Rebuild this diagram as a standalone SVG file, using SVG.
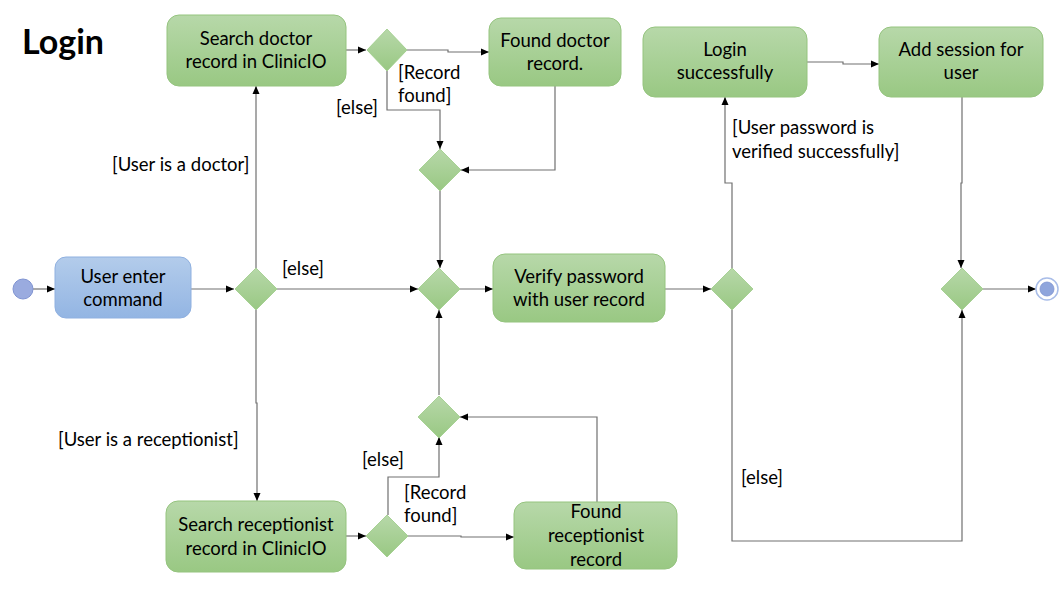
<svg xmlns="http://www.w3.org/2000/svg" width="1060" height="596" viewBox="0 0 1060 596">
<style>
.t{font-family:Lato,"Liberation Sans",sans-serif;font-size:18.5px;fill:#000}
.c{text-anchor:middle}
.box{fill:url(#g);stroke:#95c47f;stroke-width:1}
.dia{fill:url(#g);stroke:#9ccb86;stroke-width:0.8}
.ln{fill:none;stroke:#707070;stroke-width:1.2}
</style>
<defs>
<linearGradient id="g" x1="0" y1="0" x2="0" y2="1"><stop offset="0" stop-color="#b7d8a9"/><stop offset="1" stop-color="#99c883"/></linearGradient>
<linearGradient id="b" x1="0" y1="0" x2="0" y2="1"><stop offset="0" stop-color="#b3cceb"/><stop offset="1" stop-color="#93b5e3"/></linearGradient>
<marker id="a" markerUnits="userSpaceOnUse" markerWidth="9" markerHeight="8" refX="8" refY="4" orient="auto"><path d="M0,0.5 L8,4 L0,7.5 z" fill="#000"/></marker>
</defs>
<rect width="1060" height="596" fill="#fff"/>
<text x="22" y="54" style="font-family:Lato,'Liberation Sans',sans-serif;font-size:34px;font-weight:bold">Login</text>

<g id="connectors">
<path class="ln" d="M33,289 H55" marker-end="url(#a)"/>
<path class="ln" d="M191,289 H234" marker-end="url(#a)"/>
<path class="ln" d="M256,268 V86" marker-end="url(#a)"/>
<path class="ln" d="M277,289 H418" marker-end="url(#a)"/>
<path class="ln" d="M256,310 V403 H257 V501" marker-end="url(#a)"/>
<path class="ln" d="M346,50 H366" marker-end="url(#a)"/>
<path class="ln" d="M407,50 H448 V52 H489" marker-end="url(#a)"/>
<path class="ln" d="M387,71 V110 H440 V149" marker-end="url(#a)"/>
<path class="ln" d="M555,86 V170 H461" marker-end="url(#a)"/>
<path class="ln" d="M440,191 V268" marker-end="url(#a)"/>
<path class="ln" d="M460,289 H493" marker-end="url(#a)"/>
<path class="ln" d="M664,289 H711" marker-end="url(#a)"/>
<path class="ln" d="M732,268 V183 H725 V97" marker-end="url(#a)"/>
<path class="ln" d="M732,310 V541 H962 V310" marker-end="url(#a)"/>
<path class="ln" d="M807,62 H843 V64 H879" marker-end="url(#a)"/>
<path class="ln" d="M962,97 V183 H961 V268" marker-end="url(#a)"/>
<path class="ln" d="M983,289 H1036" marker-end="url(#a)"/>
<path class="ln" d="M345,536 H366" marker-end="url(#a)"/>
<path class="ln" d="M408,536 H461 V537 H514" marker-end="url(#a)"/>
<path class="ln" d="M388,515 V477 H439 V437" marker-end="url(#a)"/>
<path class="ln" d="M597,502 V417 H460" marker-end="url(#a)"/>
<path class="ln" d="M439,395 V310" marker-end="url(#a)"/>
<text class="t" x="112" y="171">[User is a doctor]</text>
<text class="t" x="282" y="275">[else]</text>
<text class="t" x="58" y="446">[User is a receptionist]</text>
<text class="t" x="398" y="79">[Record</text>
<text class="t" x="398" y="102">found]</text>
<text class="t" x="336" y="114">[else]</text>
<text class="t" x="732" y="134">[User password is</text>
<text class="t" x="732" y="158">verified successfully]</text>
<text class="t" x="741" y="484">[else]</text>
<text class="t" x="404" y="499">[Record</text>
<text class="t" x="404" y="522">found]</text>
<text class="t" x="362" y="466">[else]</text>
</g>

<g id="start"><circle cx="23" cy="289" r="10" fill="#9aabdf" stroke="#8094d2" stroke-width="1"/></g>
<g id="userEnter"><rect x="55" y="257" width="136" height="61" rx="11" fill="url(#b)" stroke="#8fb0e0"/>
<text class="t c" x="123" y="283">User enter</text><text class="t c" x="123" y="306">command</text></g>
<g id="d0"><polygon class="dia" points="256,268 277,289 256,310 235,289"/></g>
<g id="searchDoctor"><rect class="box" x="167" y="15" width="179" height="71" rx="12"/>
<text class="t c" x="256" y="45">Search doctor</text><text class="t c" x="256" y="68">record in ClinicIO</text></g>
<g id="d1"><polygon class="dia" points="387,29 407,50 387,71 367,50"/></g>
<g id="foundDoctor"><rect class="box" x="489" y="18" width="132" height="68" rx="12"/>
<text class="t c" x="555" y="47">Found doctor</text><text class="t c" x="555" y="70">record.</text></g>
<g id="d2"><polygon class="dia" points="440,149 461,170 440,191 419,170"/></g>
<g id="d3"><polygon class="dia" points="439,268 460,289 439,310 418,289"/></g>
<g id="verify"><rect class="box" x="493" y="254" width="172" height="68" rx="12"/>
<text class="t c" x="579" y="283">Verify password</text><text class="t c" x="579" y="306">with user record</text></g>
<g id="d4"><polygon class="dia" points="732,268 753,289 732,310 711,289"/></g>
<g id="loginOk"><rect class="box" x="643" y="27" width="164" height="70" rx="12"/>
<text class="t c" x="725" y="56">Login</text><text class="t c" x="725" y="79">successfully</text></g>
<g id="addSession"><rect class="box" x="879" y="27" width="164" height="70" rx="12"/>
<text class="t c" x="961" y="56">Add session for</text><text class="t c" x="961" y="79">user</text></g>
<g id="d5"><polygon class="dia" points="962,268 983,289 962,310 941,289"/></g>
<g id="end"><circle cx="1047" cy="289" r="11" fill="#fff" stroke="#a9bde8" stroke-width="1.5"/><circle cx="1047" cy="289" r="7" fill="#8fa5dc" stroke="#7d93d0" stroke-width="0.8"/></g>
<g id="d6"><polygon class="dia" points="439,396 460,417 439,438 418,417"/></g>
<g id="searchRecep"><rect class="box" x="166" y="501" width="180" height="71" rx="12"/>
<text class="t c" x="256" y="531">Search receptionist</text><text class="t c" x="256" y="555">record in ClinicIO</text></g>
<g id="d7"><polygon class="dia" points="387,515 408,536 387,557 366,536"/></g>
<g id="foundRecep"><rect class="box" x="514" y="502" width="163" height="67" rx="12"/>
<text class="t c" x="596" y="518">Found</text><text class="t c" x="596" y="542">receptionist</text><text class="t c" x="596" y="566">record</text></g>
</svg>
